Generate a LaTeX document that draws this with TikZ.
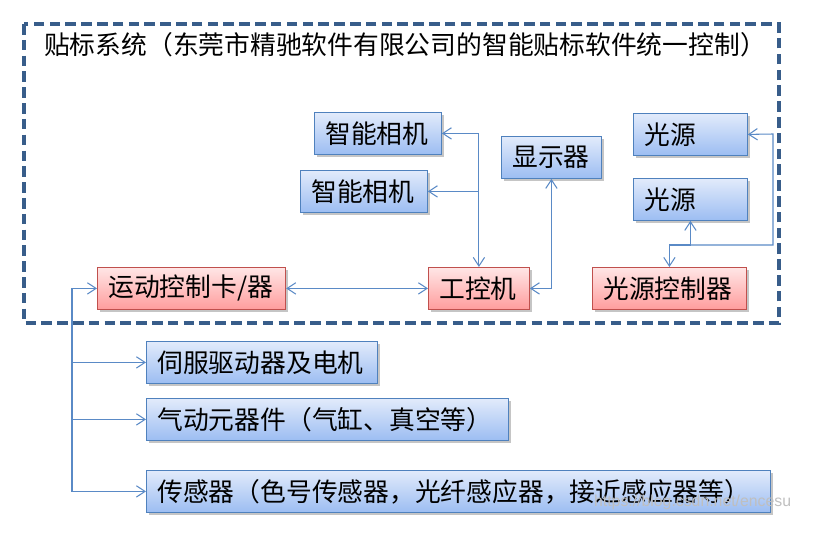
\documentclass[tikz,border=0pt]{standalone}
\usepackage{fontspec}
\setmainfont{Noto Sans CJK SC}
\newfontfamily\wmfont{Liberation Sans}
\usetikzlibrary{arrows.meta, shadows}

\definecolor{boxline}{HTML}{4F81BD}
\definecolor{boxtop}{HTML}{E2EBFB}
\definecolor{boxbot}{HTML}{9CBDF2}
\definecolor{redline}{HTML}{C0504D}
\definecolor{redtop}{HTML}{FFE6E6}
\definecolor{redbot}{HTML}{FF9D9D}
\definecolor{linkcol}{HTML}{5A8AC6}
\definecolor{framecol}{HTML}{385D8A}

\begin{document}
\begin{tikzpicture}[
        x=0.03cm, y=-0.03cm,
        box/.style={rectangle, draw=boxline, line width=0.7pt, top color=boxtop, bottom color=boxbot,
            drop shadow={shadow xshift=0.07cm, shadow yshift=-0.07cm, fill=black!45, opacity=0.5},
            anchor=north west, minimum height=1.26cm, inner xsep=0.33cm, align=left,
            font=\fontsize{22}{26}\selectfont},
        hot/.style={box, draw=redline, top color=redtop, bottom color=redbot},
        link/.style={draw=linkcol, line width=0.9pt},
        >={Straight Barb[length=0.26cm, width=0.34cm]}
    ]
    \useasboundingbox (0,0) rectangle (825,542);

    % system frame and title
    \draw[framecol, line width=3pt, dash pattern=on 9pt off 4.5pt] (24,24) rectangle (779,323);
    \node[anchor=west, font=\fontsize{22}{26}\selectfont] (title) at (40,45)
        {贴标系统（东莞市精驰软件有限公司的智能贴标软件统一控制）};

    % cameras and display
    \node[box, text width=3.15cm] (cam1) at (314,112) {智能相机};
    \node[box, text width=3.15cm] (cam2) at (300,170) {智能相机};
    \node[box, text width=2.34cm] (disp) at (501,136) {显示器};

    % light sources
    \node[box, text width=2.76cm] (light1) at (633,113) {光源};
    \node[box, text width=2.76cm] (light2) at (633,178) {光源};

    % controllers
    \node[hot, text width=4.99cm] (motion) at (97,267) {运动控制卡/器};
    \node[hot, text width=2.37cm] (ipc) at (428,267) {工控机};
    \node[hot, text width=3.96cm] (lctl) at (592,267) {光源控制器};

    % devices under the motion controller
    \node[box, text width=6.27cm] (servo) at (146,341) {伺服驱动器及电机};
    \node[box, text width=10.2cm] (pneu) at (146,398) {气动元器件（气缸、真空等）};
    \node[box, text width=18.06cm] (sensor) at (146,470) {传感器（色号传感器，光纤感应器，接近感应器等）};

    % ipc -> cameras
    \draw[link, <->] (cam1.east) -| (ipc.north);
    \draw[link, ->] (ipc.north |- cam2.east) -- (cam2.east);

    % ipc <-> display
    \draw[link, <->] (disp.south) |- (ipc.east);

    % motion controller <-> ipc
    \draw[link, <->] (motion.east) -- (ipc.west);

    % light controller -> light sources
    \coordinate (lturn) at (773,134);
    \draw[link, <->] (lctl.north) -- ++(0,-22) coordinate (lj) -| (light2.south);
    \draw[link, ->] (lj) -| (lturn) -- (light1.east);

    % motion controller -> devices
    \draw[link, <->] (motion.west) -- ++(-25,0) coordinate (bus) |- (sensor.west);
    \draw[link, ->] (bus |- servo.west) -- (servo.west);
    \draw[link, ->] (bus |- pneu.west) -- (pneu.west);

    % watermark
    \node[anchor=west, text=black!25, font=\wmfont\fontsize{13.5}{16}\selectfont] (mark) at (590,502)
        {https://blog.csdn.net/encesu};

\end{tikzpicture}
\end{document}
